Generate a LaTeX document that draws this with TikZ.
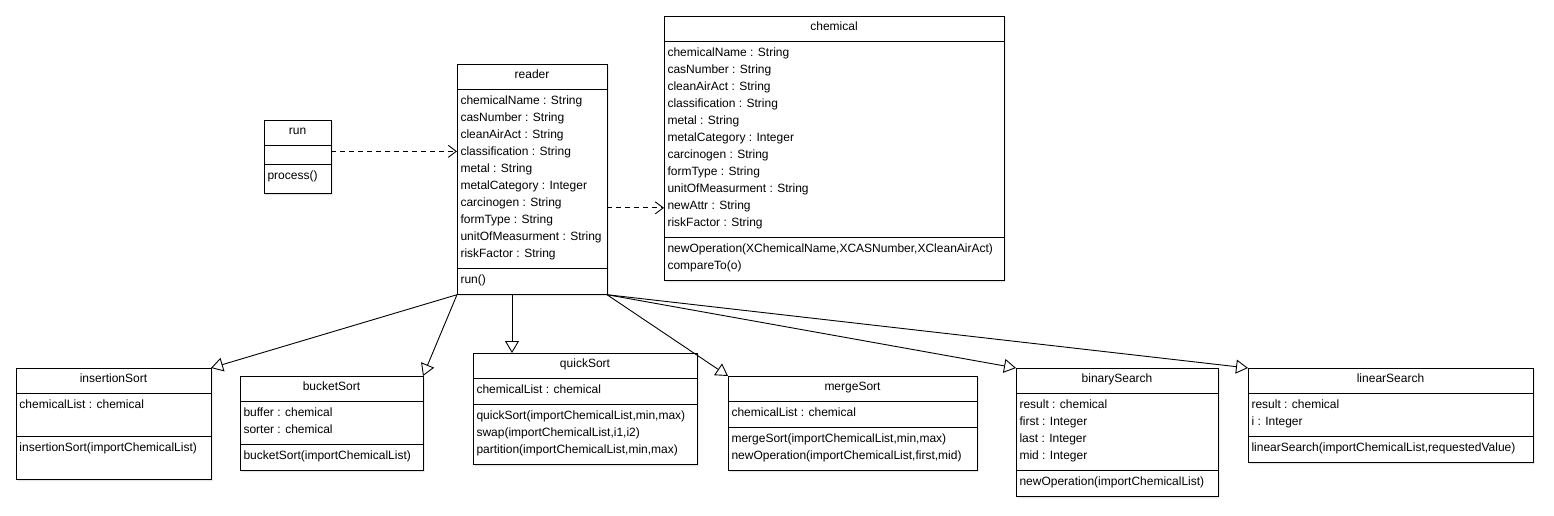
\documentclass[tikz,border=0pt]{standalone}
\usepackage{fontspec}
\setmainfont{Liberation Sans}
\usetikzlibrary{arrows.meta,shapes,positioning,shadows}

\newcommand{\umlstrut}{\rule[-7pt]{0pt}{17pt}}
\newcommand{\umlpart}[1]{\umlstrut#1\umlstrut}

\begin{document}
\begin{tikzpicture}[x=1pt,y=-1pt,>={Triangle[open,length=12pt,width=14pt]},
                    line width=0.9pt]
\tikzstyle{klasse}=[rectangle split,rectangle split parts=3,draw=black,fill=white,
                    rectangle split part align={center,left,left},align=left,
                    rectangle split empty part height=10pt,
                    inner xsep=3.5pt,inner ysep=4pt,outer sep=0pt,anchor=north west,
                    font=\fontsize{12}{17}\selectfont,
                    drop shadow={shadow xshift=1.5pt,shadow yshift=-1.5pt,fill=black!20}]
\tikzstyle{erbt}=[->,black]
\tikzstyle{nutzt}=[-{Straight Barb[length=8pt,width=12pt]},dash pattern=on 5pt off 4pt]

\fill[white] (0,0) rectangle (1554,516);
\useasboundingbox (0,0) rectangle (1554,516);

\node[klasse,minimum width=67pt] (run) at (264,120) {\umlpart{run}
  \nodepart{two}\nodepart{three}\umlpart{process()\rule[-10pt]{0pt}{10pt}}};

\node[klasse,minimum width=150pt] (reader) at (457,64) {\umlpart{reader}
  \nodepart{two}\umlpart{chemicalName : String\\casNumber : String\\cleanAirAct : String\\
    classification : String\\metal : String\\metalCategory : Integer\\carcinogen : String\\
    formType : String\\unitOfMeasurment : String\\riskFactor : String}
  \nodepart{three}\umlpart{run()}};

\node[klasse,minimum width=340pt] (chemical) at (664,16) {\umlpart{chemical}
  \nodepart{two}\umlpart{chemicalName : String\\casNumber : String\\cleanAirAct : String\\
    classification : String\\metal : String\\metalCategory : Integer\\carcinogen : String\\
    formType : String\\unitOfMeasurment : String\\newAttr : String\\riskFactor : String}
  \nodepart{three}\umlpart{newOperation(XChemicalName,XCASNumber,XCleanAirAct)\\compareTo(o)}};

\node[klasse,minimum width=195pt] (insertion_sort) at (16,368) {\umlpart{insertionSort}
  \nodepart{two}\umlpart{chemicalList : chemical\\}
  \nodepart{three}\umlpart{insertionSort(importChemicalList)\\}};

\node[klasse,minimum width=183pt] (bucket_sort) at (240,376) {\umlpart{bucketSort}
  \nodepart{two}\umlpart{buffer : chemical\\sorter : chemical}
  \nodepart{three}\umlpart{bucketSort(importChemicalList)}};

\node[klasse,minimum width=224pt] (quick_sort) at (473,353) {\umlpart{quickSort}
  \nodepart{two}\umlpart{chemicalList : chemical}
  \nodepart{three}\umlpart{quickSort(importChemicalList,min,max)\\swap(importChemicalList,i1,i2)\\
    partition(importChemicalList,min,max)}};

\node[klasse,minimum width=249pt] (merge_sort) at (728,376) {\umlpart{mergeSort}
  \nodepart{two}\umlpart{chemicalList : chemical}
  \nodepart{three}\umlpart{mergeSort(importChemicalList,min,max)\\
    newOperation(importChemicalList,first,mid)}};

\node[klasse,minimum width=202pt] (binary_search) at (1016,368) {\umlpart{binarySearch}
  \nodepart{two}\umlpart{result : chemical\\first : Integer\\last : Integer\\mid : Integer}
  \nodepart{three}\umlpart{newOperation(importChemicalList)}};

\node[klasse,minimum width=285pt] (linear_search) at (1248,368) {\umlpart{linearSearch}
  \nodepart{two}\umlpart{result : chemical\\i : Integer}
  \nodepart{three}\umlpart{linearSearch(importChemicalList,requestedValue)}};

\draw[nutzt] ([yshift=5.5pt]run.east) -- ([yshift=5.5pt]run.east -| reader.west);
\draw[nutzt] ([yshift=-28.5pt]reader.east) -- ([yshift=-28.5pt]reader.east -| chemical.west);

\draw[erbt] (reader.south west) -- (insertion_sort.north east);
\draw[erbt] (reader.south west) -- (bucket_sort.north east);
\draw[erbt] ([xshift=-20pt]reader.south) -- ([xshift=-20pt]reader.south |- quick_sort.north);
\draw[erbt] (reader.south east) -- (merge_sort.north west);
\draw[erbt] (reader.south east) -- (binary_search.north west);
\draw[erbt] (reader.south east) -- (linear_search.north west);
\end{tikzpicture}
\end{document}
